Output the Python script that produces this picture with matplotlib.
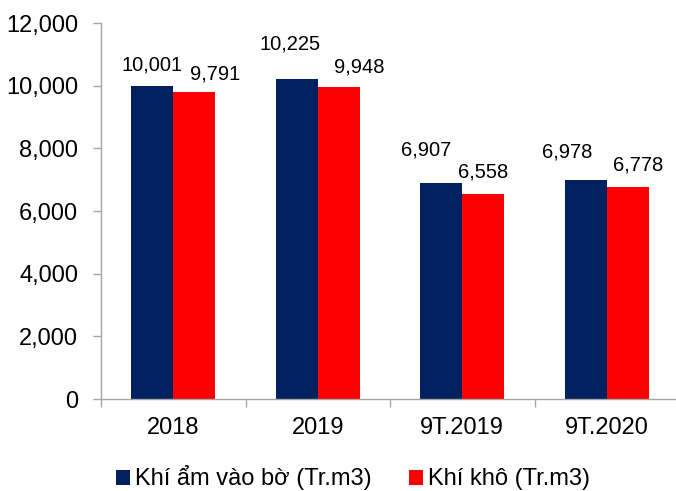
import matplotlib
matplotlib.use("Agg")
import matplotlib.pyplot as plt
import numpy as np

categories = ["2018", "2019", "9T.2019", "9T.2020"]
wet_gas = [10001, 10225, 6907, 6978]
dry_gas = [9791, 9948, 6558, 6778]
series_names = ["Khí ẩm vào bờ (Tr.m3)", "Khí khô (Tr.m3)"]
y_ticks = [0, 2000, 4000, 6000, 8000, 10000, 12000]

# label offsets (pixels) as placed in the original
wet_offsets = [(0, 15), (-7, 29), (-15, 27), (-19, 23)]
dry_offsets = [(21, 13), (21, 15), (0, 16), (10, 16)]

plt.rcParams['font.family'] = ['Liberation Sans', 'DejaVu Sans']
NAVY = "#002060"
RED = "#FF0000"
GREY = "#A6A6A6"

fig = plt.figure(figsize=(6.76, 4.91), dpi=100)
ax = fig.add_axes([101/676, 1 - 399/491, 578/676, (399 - 23)/491])

x = np.arange(len(categories)) + 0.5
w = 0.29
b1 = ax.bar(x - w/2, wet_gas, w, color=NAVY, label=series_names[0])
b2 = ax.bar(x + w/2, dry_gas, w, color=RED, label=series_names[1])

for bars, vals, offs in ((b1, wet_gas, wet_offsets), (b2, dry_gas, dry_offsets)):
    for r, v, (dx, dy) in zip(bars, vals, offs):
        ax.annotate(f"{v:,}", (r.get_x() + r.get_width()/2, r.get_height()),
                    xytext=(dx, dy), textcoords='offset pixels',
                    ha='center', va='baseline', fontsize=14.5, color='black')

ax.set_xlim(0, len(categories))
ax.set_ylim(0, 12000)
ax.set_yticks(y_ticks)
ax.set_yticklabels([f"{t:,}" for t in y_ticks])
ax.set_xticks(x)
ax.set_xticklabels(categories)
ax.set_xticks(np.arange(len(categories) + 1), minor=True)
ax.tick_params(axis='x', which='major', length=0, pad=13, labelsize=17)
ax.tick_params(axis='x', which='minor', length=6, width=1, color=GREY, direction='out')
ax.tick_params(axis='y', length=6, width=1, color=GREY, direction='out', pad=10.5, labelsize=17)

for s in ['top', 'right']:
    ax.spines[s].set_visible(False)
for s in ['left', 'bottom']:
    ax.spines[s].set_color(GREY)
    ax.spines[s].set_linewidth(1)

fig.legend(handles=[b1, b2], labels=series_names, loc='center',
           bbox_to_anchor=(353/676, 1 - 478/491), ncol=2, frameon=False,
           fontsize=17, handlelength=0.6, handleheight=0.6, handletextpad=0.2,
           columnspacing=1.6, borderaxespad=0)

fig.savefig("out.png", dpi=100)
